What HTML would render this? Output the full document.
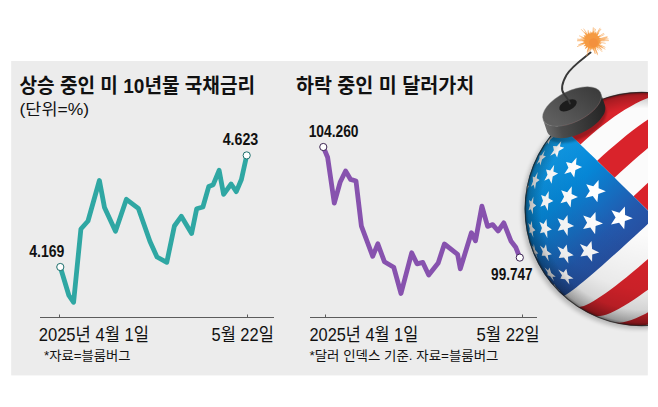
<!DOCTYPE html>
<html lang="ko"><head><meta charset="utf-8"><title>chart</title>
<style>
html,body{margin:0;padding:0;background:#fff}
#w{position:relative;width:658px;height:407px;overflow:hidden;background:#fff;font-family:"Liberation Sans",sans-serif}
#w svg{position:absolute;left:0;top:0}
.t{position:absolute;white-space:nowrap;color:transparent;line-height:1.2;font-family:"Liberation Sans",sans-serif}
</style></head><body>
<div id="w">
<svg width="658" height="407" viewBox="0 0 658 407">
<rect x="11.2" y="61" width="636.6" height="314.4" fill="#ececec"/>
<g stroke="#5c5c5c" stroke-width="1" fill="none"><path d="M40 317.5H274M59.5 314.5V317.5M247.5 314.5V317.5"/><path d="M310 317.5H537M325.5 314.5V317.5M522.5 314.5V317.5"/></g>
<polyline points="60.3,267.0 68.9,295.5 73.6,302.3 80.9,229.0 88.0,221.0 99.4,180.5 104.5,207.5 115.5,231.2 126.4,199.3 138.3,208.3 150.0,241.5 157.0,257.0 166.8,262.3 174.4,226.0 181.3,216.3 191.6,233.5 196.7,208.8 202.9,207.0 208.8,186.4 213.2,184.7 219.1,170.3 223.6,194.3 231.1,184.0 236.3,191.6 241.4,179.5 246.7,155.4" fill="none" stroke="#2fa7a3" stroke-width="4.8" stroke-linejoin="round" stroke-linecap="round"/>
<polyline points="323.3,147.0 327.6,157.2 334.3,203.2 340.1,182.3 345.6,171.0 350.6,179.4 356.0,181.0 361.4,226.2 372.7,256.3 377.8,243.8 384.4,261.7 393.7,267.2 401.0,293.5 411.7,252.8 417.0,263.8 422.8,262.4 428.7,275.0 438.2,262.9 444.4,244.0 457.6,254.3 460.3,268.8 471.4,232.7 475.5,240.8 481.9,206.2 487.6,226.4 492.7,224.6 498.1,231.0 503.8,222.9 511.1,241.3 515.7,247.2 519.8,257.6" fill="none" stroke="#8752ae" stroke-width="4.8" stroke-linejoin="round" stroke-linecap="round"/>
<circle cx="60.3" cy="267" r="3.6" fill="#fff" stroke="#1d6f6c" stroke-width="1"/>
<circle cx="246.7" cy="155.4" r="3.6" fill="#fff" stroke="#1d6f6c" stroke-width="1"/>
<circle cx="323.3" cy="147" r="3.6" fill="#fff" stroke="#3b2450" stroke-width="1"/>
<circle cx="519.8" cy="257.6" r="3.6" fill="#fff" stroke="#3b2450" stroke-width="1"/>
<g font-family='"Liberation Sans", "Noto Sans CJK KR", sans-serif' fill="#111">
<text x="19.5" y="93" font-size="20" font-weight="bold" textLength="235.5" lengthAdjust="spacingAndGlyphs">상승 중인 미 10년물 국채금리</text>
<text x="295.9" y="93" font-size="20" font-weight="bold" textLength="178.4" lengthAdjust="spacingAndGlyphs">하락 중인 미 달러가치</text>
<text x="19.5" y="114.6" font-size="16" textLength="69.5" lengthAdjust="spacingAndGlyphs">(단위=%)</text>
<text x="38.7" y="340.9" font-size="18" textLength="110.3" lengthAdjust="spacingAndGlyphs">2025년 4월 1일</text>
<text x="211.5" y="340.9" font-size="18" textLength="62.3" lengthAdjust="spacingAndGlyphs">5월 22일</text>
<text x="309.5" y="340.9" font-size="18" textLength="108.7" lengthAdjust="spacingAndGlyphs">2025년 4월 1일</text>
<text x="476.4" y="340.9" font-size="18" textLength="63.2" lengthAdjust="spacingAndGlyphs">5월 22일</text>
<text x="44" y="359.5" font-size="13" textLength="86.4" lengthAdjust="spacingAndGlyphs">*자료=블룸버그</text>
<text x="309.5" y="360" font-size="13" textLength="189" lengthAdjust="spacingAndGlyphs">*달러 인덱스 기준. 자료=블룸버그</text>
<text x="222.7" y="145.1" font-size="16" font-weight="bold" textLength="35.6" lengthAdjust="spacingAndGlyphs">4.623</text>
<text x="29.2" y="257.4" font-size="16" font-weight="bold" textLength="35.1" lengthAdjust="spacingAndGlyphs">4.169</text>
<text x="308.7" y="136.5" font-size="16" font-weight="bold" textLength="49.8" lengthAdjust="spacingAndGlyphs">104.260</text>
<text x="491.1" y="280.3" font-size="16" font-weight="bold" textLength="41.5" lengthAdjust="spacingAndGlyphs">99.747</text>
</g>
<defs><clipPath id="cs"><circle cx="641.7" cy="209" r="117"/></clipPath><clipPath id="cr"><rect x="0" y="0" width="648" height="407"/></clipPath><linearGradient id="gb" gradientUnits="userSpaceOnUse" x1="535" y1="150" x2="640" y2="260"><stop offset="0" stop-color="#14a0ea"/><stop offset="0.35" stop-color="#0686d6"/><stop offset="0.72" stop-color="#2359ad"/><stop offset="1" stop-color="#2b4896"/></linearGradient><radialGradient id="gsh" gradientUnits="userSpaceOnUse" cx="655" cy="165" r="175"><stop offset="0.4" stop-color="#000" stop-opacity="0"/><stop offset="0.72" stop-color="#000" stop-opacity="0.07"/><stop offset="0.88" stop-color="#000" stop-opacity="0.19"/><stop offset="1" stop-color="#000" stop-opacity="0.32"/></radialGradient><radialGradient id="ged" gradientUnits="userSpaceOnUse" cx="641.7" cy="209" r="117"><stop offset="0.86" stop-color="#000" stop-opacity="0"/><stop offset="0.97" stop-color="#000" stop-opacity="0.22"/><stop offset="1" stop-color="#000" stop-opacity="0.5"/></radialGradient><filter id="bl" x="-20%" y="-20%" width="140%" height="140%"><feGaussianBlur stdDeviation="3"/></filter><filter id="bl2" x="-20%" y="-20%" width="140%" height="140%"><feGaussianBlur stdDeviation="2"/></filter><filter id="bl0" x="-20%" y="-20%" width="140%" height="140%"><feGaussianBlur stdDeviation="0.45"/></filter><filter id="bl1" x="-20%" y="-20%" width="140%" height="140%"><feGaussianBlur stdDeviation="1.2"/></filter><linearGradient id="gcap" gradientUnits="userSpaceOnUse" x1="545" y1="125" x2="603" y2="110"><stop offset="0" stop-color="#6a6a6a"/><stop offset="0.25" stop-color="#4a4a4a"/><stop offset="1" stop-color="#262626"/></linearGradient><linearGradient id="gtop" gradientUnits="userSpaceOnUse" x1="550" y1="115" x2="595" y2="92"><stop offset="0" stop-color="#5e5e5e"/><stop offset="1" stop-color="#3c3c3c"/></linearGradient></defs>
<g clip-path="url(#cr)">
<circle cx="639.5" cy="211.5" r="117.5" fill="#000" opacity="0.22" filter="url(#bl2)"/>
<g clip-path="url(#cs)">
<circle cx="641.7" cy="209" r="118" fill="#fbfbfb"/>
<path d="M561.0 126.2L565.3 122.1L569.8 118.3L574.4 114.7L579.1 111.3L583.9 108.1L588.7 105.3L593.5 102.7L598.3 100.5L603.0 98.6L607.7 97.0L612.3 95.8L616.7 94.7L620.9 93.9L625.0 93.2L628.9 92.7L632.6 92.4L636.2 92.1L639.6 92.0L642.8 92.0L645.9 92.1L648.8 92.2L651.5 92.4L654.1 92.7L680.7 98.7L678.7 98.0L676.5 97.3L674.1 96.6L671.5 95.9L668.7 95.2L665.6 94.7L662.1 94.7L658.4 95.2L654.4 96.1L650.0 97.3L645.5 99.0L640.7 101.1L635.7 103.6L630.5 106.4L625.1 109.6L619.7 113.0L614.1 116.8L608.5 120.9L602.8 125.2L597.1 129.8L591.5 134.5L585.9 139.4L580.4 144.5Z" fill="#d9232b"/>
<path d="M597.2 160.8L603.1 155.3L609.0 150.0L615.0 144.9L620.9 139.9L626.8 135.1L632.6 130.6L638.3 126.3L643.9 122.2L649.3 118.5L654.5 115.1L659.4 112.1L664.2 109.4L668.6 107.1L672.8 105.2L676.6 103.7L680.2 102.7L683.3 102.0L686.1 101.8L688.5 102.0L690.6 102.7L692.3 103.5L694.0 104.3L695.4 105.1L708.5 112.9L707.6 112.3L706.6 111.6L705.4 111.1L703.8 111.0L701.8 111.3L699.4 112.1L696.6 113.3L693.4 114.9L689.8 116.9L685.9 119.3L681.7 122.1L677.1 125.2L672.3 128.7L667.2 132.6L661.9 136.7L656.4 141.1L650.7 145.8L644.9 150.7L638.9 155.8L632.9 161.1L626.8 166.5L620.6 172.1L614.5 177.7Z" fill="#d9232b"/>
<path d="M633.5 196.3L639.7 190.5L645.8 184.8L651.9 179.2L658.0 173.7L663.9 168.3L669.6 163.1L675.2 158.2L680.6 153.4L685.7 148.9L690.5 144.7L695.1 140.8L699.3 137.3L703.2 134.0L706.8 131.2L709.9 128.7L712.7 126.6L715.1 124.9L717.0 123.6L718.5 122.7L719.6 122.3L720.2 122.3L720.6 122.6L720.9 122.8L732.9 135.8L733.2 136.1L733.5 136.4L733.5 137.0L733.0 138.0L732.1 139.4L730.8 141.2L729.0 143.4L726.8 146.0L724.2 148.9L721.2 152.2L717.7 155.9L713.9 159.8L709.8 164.1L705.3 168.6L700.6 173.4L695.5 178.4L690.2 183.6L684.7 188.9L679.0 194.5L673.1 200.1L667.1 205.8L661.0 211.6L654.9 217.4Z" fill="#d9232b"/>
<path d="M574.9 305.1L575.8 305.7L576.7 306.3L577.9 306.8L579.5 307.0L581.5 306.6L583.9 305.9L586.7 304.7L589.8 303.2L593.3 301.2L597.2 298.8L601.4 296.0L605.9 292.9L610.7 289.4L615.7 285.7L621.0 281.6L626.5 277.2L632.1 272.6L637.9 267.7L643.9 262.6L649.9 257.4L655.9 252.0L662.0 246.5L668.1 240.8L674.1 235.2L680.1 229.5L686.0 223.8L691.7 218.1L697.3 212.5L702.6 206.9L707.8 201.5L712.7 196.2L717.3 191.1L721.6 186.2L725.6 181.5L729.2 177.1L732.4 172.9L735.3 169.0L737.8 165.4L739.8 162.2L741.4 159.3L742.6 156.7L743.3 154.5L743.6 152.7L743.4 151.3L742.8 150.2L742.3 149.2L741.7 148.3L748.6 161.3L749.2 162.8L749.8 164.4L750.5 166.1L751.2 167.9L751.6 170.1L751.6 172.7L751.0 175.5L750.0 178.7L748.6 182.2L746.7 186.1L744.5 190.1L741.8 194.5L738.7 199.1L735.3 203.9L731.5 208.9L727.3 214.0L722.9 219.3L718.2 224.7L713.2 230.2L708.0 235.8L702.7 241.3L697.1 246.9L691.4 252.4L685.6 257.9L679.8 263.3L673.8 268.6L667.9 273.7L662.0 278.6L656.2 283.4L650.4 287.9L644.7 292.1L639.2 296.1L633.8 299.8L628.7 303.1L623.7 306.1L619.0 308.8L614.6 311.0L610.5 312.9L606.7 314.4L603.2 315.4L600.1 316.0L597.3 316.2L594.9 316.0L592.9 315.3L591.1 314.5L589.5 313.7L588.0 313.0Z" fill="#d9232b"/>
<path d="M601.2 318.8L603.2 319.5L605.4 320.2L607.7 320.9L610.2 321.7L613.0 322.4L616.0 322.8L619.4 322.7L623.1 322.2L627.1 321.3L631.4 320.0L635.9 318.3L640.7 316.1L645.6 313.7L650.8 310.8L656.1 307.6L661.6 304.1L667.1 300.3L672.7 296.3L678.4 291.9L684.1 287.4L689.7 282.6L695.4 277.7L700.9 272.6L706.3 267.5L711.6 262.2L716.7 256.8L721.7 251.5L726.4 246.1L730.8 240.8L735.0 235.5L738.9 230.3L742.4 225.2L745.6 220.2L748.5 215.4L750.9 210.8L753.0 206.3L754.6 202.1L755.8 198.2L756.6 194.5L756.9 191.1L756.8 188.0L756.3 185.2L755.7 182.6L755.1 180.3L754.5 178.1L754.0 176.0L753.4 174.1L756.5 186.4L756.9 188.6L757.3 191.0L757.7 193.5L758.0 196.2L758.3 199.0L758.5 202.1L758.6 205.4L758.7 208.9L758.6 212.6L758.1 216.6L757.2 220.8L755.8 225.2L754.1 229.8L751.9 234.5L749.4 239.3L746.5 244.2L743.2 249.2L739.7 254.3L735.9 259.4L731.7 264.5L727.4 269.5L722.8 274.5L718.0 279.4L713.1 284.2L708.0 288.9L702.8 293.3L697.5 297.6L692.2 301.7L686.9 305.5L681.5 309.1L676.2 312.4L671.0 315.3L665.9 317.9L660.8 320.2L656.0 322.1L651.3 323.7L646.8 324.8L642.5 325.5L638.4 325.9L634.6 325.8L631.1 325.5L627.8 325.2L624.7 324.8L621.8 324.3L619.1 323.8L616.6 323.3L614.2 322.7Z" fill="#d9232b"/>
<path d="M654.9 217.4L649.8 222.2L644.7 226.9L639.7 231.6L634.6 236.2L629.6 240.8L624.7 245.3L619.9 249.7L615.1 253.9L610.5 258.1L606.1 262.0L601.7 265.9L597.6 269.5L593.6 273.0L589.8 276.2L586.2 279.2L582.9 282.0L579.7 284.6L576.8 286.9L574.2 289.0L571.8 290.8L569.7 292.3L567.9 293.6L566.4 294.6L565.1 295.3L564.2 295.7L563.5 295.9L563.1 295.7L562.9 295.5L562.6 295.2L441.7 409.0L441.7 9.0L559.8 125.5L559.8 125.4L559.9 125.4L560.1 125.5L560.6 125.9L561.5 126.6L562.7 127.7L564.2 129.1L566.0 130.8L568.1 132.8L570.6 135.1L573.3 137.7L576.3 140.5L579.5 143.7L583.0 147.1L586.8 150.7L590.8 154.5L595.0 158.6L599.3 162.9L603.9 167.3L608.6 171.9L613.5 176.6L618.4 181.5L623.5 186.5L628.6 191.5L633.8 196.6L639.1 201.8L644.3 207.0L649.6 212.2L654.8 217.3Z" fill="url(#gb)"/>
<path d="M624.9 206.4L625.1 214.9L632.8 218.2L624.9 221.0L624.2 229.3L619.1 222.7L611.0 224.4L615.6 217.6L611.4 210.3L619.4 212.7ZM598.6 180.1L598.6 188.2L605.8 191.3L598.3 194.1L597.4 202.3L592.8 195.9L585.4 197.8L589.8 191.0L586.2 184.3L593.3 186.3ZM576.6 157.4L576.0 164.6L582.1 166.9L575.4 169.9L574.2 177.5L570.6 171.9L564.3 174.1L568.4 167.7L566.0 162.1L571.7 163.3ZM561.3 141.0L559.9 146.6L564.3 147.8L558.8 151.0L557.1 157.4L555.0 153.2L550.2 155.8L553.9 150.2L553.0 146.1L556.9 146.2ZM554.3 132.4L552.1 136.3L554.4 136.0L550.4 139.5L548.1 144.3L547.8 141.9L544.7 145.0L548.0 140.2L548.8 138.1L550.6 136.9ZM595.5 211.9L595.7 220.2L603.0 223.5L595.6 226.1L595.1 234.2L590.3 227.6L583.1 229.1L587.1 222.7L583.2 215.6L590.4 218.0ZM571.8 186.2L571.6 193.9L577.9 196.9L571.3 199.7L570.6 207.5L566.6 201.4L560.5 203.2L564.1 196.7L561.2 190.3L567.2 192.2ZM554.2 164.8L553.4 171.6L558.1 173.6L552.7 176.6L551.6 183.8L549.0 178.6L544.3 180.8L547.5 174.7L546.0 169.5L550.2 170.5ZM544.9 150.2L543.2 155.4L545.9 156.2L542.0 159.5L540.3 165.4L539.5 161.7L536.5 164.4L539.3 159.1L539.5 155.5L541.5 155.3ZM591.5 241.1L592.1 248.9L599.2 252.4L592.2 254.4L592.1 261.7L587.2 255.6L580.5 256.5L583.9 250.8L579.9 244.0L586.9 246.7ZM567.5 214.9L567.8 222.7L574.1 226.0L567.9 228.3L567.6 235.9L563.5 229.6L557.7 230.8L560.7 224.9L557.5 218.2L563.4 220.6ZM548.8 191.0L548.6 198.2L553.4 201.0L548.3 203.5L547.8 210.8L544.9 205.1L540.4 206.7L543.0 200.8L541.1 194.9L545.3 196.6ZM537.7 172.0L536.7 178.2L539.6 179.9L536.0 182.8L535.0 189.3L533.6 184.7L530.9 186.8L533.0 181.3L532.7 176.6L534.8 177.3ZM566.7 244.4L567.6 251.6L573.7 255.2L568.0 256.7L568.4 263.4L564.0 257.5L558.7 258.0L561.0 253.0L557.4 246.5L563.2 249.3ZM546.5 218.9L547.0 226.1L551.9 229.4L547.2 231.3L547.4 238.2L544.1 232.3L540.0 233.2L541.9 227.9L539.4 221.7L543.6 224.1ZM533.4 196.5L533.1 203.1L536.2 205.6L533.0 207.9L532.8 214.5L530.9 209.2L528.5 210.6L529.9 205.4L528.9 200.1L531.2 201.6ZM529.0 179.6L527.9 185.0L528.8 186.4L527.2 189.1L526.4 194.9L526.4 190.8L525.8 192.7L526.7 187.9L527.4 183.9L527.5 184.4ZM566.3 268.7L567.7 274.8L573.5 278.4L568.5 279.1L569.4 284.4L565.0 279.2L560.4 278.8L562.0 275.2L558.2 269.4L563.5 272.5ZM546.0 244.2L547.1 250.7L551.8 254.3L547.8 255.3L548.7 261.3L545.1 255.7L541.7 255.7L542.8 251.5L539.9 245.5L543.9 248.4ZM531.8 220.7L532.3 227.1L535.4 230.3L532.7 231.7L533.4 237.8L531.1 232.4L529.3 232.9L529.7 228.4L528.2 222.9L530.4 225.1ZM549.4 267.6L551.2 273.0L555.7 276.7L552.4 276.7L554.0 281.2L550.2 276.3L547.5 275.3L547.6 272.6L544.4 267.3L548.1 270.5ZM533.8 244.1L535.2 249.9L538.3 253.4L536.2 253.8L537.7 258.9L535.0 253.8L533.8 253.2L533.3 250.0L531.2 244.6L533.3 247.5ZM554.1 283.9L556.5 287.8L560.6 291.4L558.2 290.3L560.4 293.1L556.6 289.2L554.7 287.2L553.9 286.2L550.5 281.9L553.8 285.3Z" fill="#fff"/>
<circle cx="641.7" cy="209" r="118" fill="url(#gsh)"/>
<circle cx="641.7" cy="209" r="118" fill="url(#ged)"/>
</g>
<circle cx="641.7" cy="209" r="116.6" fill="none" stroke="#222" stroke-opacity="0.75" stroke-width="1.1"/>
</g>
<g clip-path="url(#cs)"><ellipse cx="577" cy="123" rx="32" ry="16" transform="rotate(-26 577 123)" fill="#000" opacity="0.28" filter="url(#bl1)"/></g>
<path d="M605.0 105.5L605.3 107.2L605.3 109.0L605.0 110.9L604.4 112.9L603.4 115.0L602.0 117.1L600.4 119.2L598.5 121.4L596.3 123.4L593.9 125.5L591.3 127.4L588.5 129.3L585.6 131.0L582.5 132.6L579.4 134.0L576.2 135.2L573.0 136.2L569.9 137.1L566.8 137.7L563.8 138.1L561.0 138.2L558.4 138.1L555.9 137.8L553.7 137.3L551.8 136.5L550.1 135.6L548.8 134.4L547.7 133.0L547.0 131.5L543.0 119.5Z" fill="none"/>
<path d="M605.0 105.5L605.3 107.2L605.3 109.0L605.0 110.9L604.4 112.9L603.4 115.0L602.0 117.1L600.4 119.2L598.5 121.4L596.3 123.4L593.9 125.5L591.3 127.4L588.5 129.3L585.6 131.0L582.5 132.6L579.4 134.0L576.2 135.2L573.0 136.2L569.9 137.1L566.8 137.7L563.8 138.1L561.0 138.2L558.4 138.1L555.9 137.8L553.7 137.3L551.8 136.5L550.1 135.6L548.8 134.4L547.7 133.0L547.0 131.5L543.0 119.5L543.7 121.0L544.8 122.4L546.1 123.6L547.8 124.5L549.7 125.3L551.9 125.8L554.4 126.1L557.0 126.2L559.8 126.1L562.8 125.7L565.9 125.1L569.0 124.2L572.2 123.2L575.4 122.0L578.5 120.6L581.6 119.0L584.5 117.3L587.3 115.4L589.9 113.5L592.3 111.4L594.5 109.4L596.4 107.2L598.0 105.1L599.4 103.0L600.4 100.9L601.0 98.9L601.3 97.0L601.3 95.2L601.0 93.5Z" fill="url(#gcap)"/>
<ellipse cx="572.0" cy="106.5" rx="31.8" ry="15.5" transform="rotate(-26.0 572.0 106.5)" fill="url(#gtop)" stroke="#777" stroke-opacity="0.5" stroke-width="0.8"/>
<ellipse cx="568" cy="105.3" rx="9.5" ry="5.0" transform="rotate(-26.0 568 105.3)" fill="#1c1c1c"/>
<path d="M590.6 52.5C584 58 572 66 566.5 75C562 83 560.5 90 564 94C566.5 97.5 569 100 570 103.5" fill="none" stroke="#383838" stroke-width="1.9" stroke-linecap="round"/>
<g filter="url(#bl0)">
<path d="M587.2 42.3L578.5 44.9M596.4 38.5L604.1 34.6M587.0 40.6L577.8 40.1M594.0 45.4L597.5 53.5M588.6 37.2L581.5 29.6M596.2 43.6L602.5 47.9M596.2 43.5L605.0 49.1M590.3 36.1L588.1 30.3M597.0 40.2L608.2 39.0M589.2 36.7L583.8 29.0M594.7 45.0L598.1 50.1M587.1 39.9L580.9 38.8M593.8 45.5L596.5 52.3M596.9 41.7L605.3 43.3M587.3 42.6L577.4 46.5M587.0 40.2L577.6 39.1M587.0 40.8L577.4 40.8M587.2 42.1L579.9 44.1M597.0 40.7L608.5 40.6M594.7 36.6L600.0 28.2M590.0 45.4L587.1 52.0M590.8 45.7L589.2 51.8M592.5 35.8L593.3 27.7M594.9 36.7L599.5 30.0M596.8 39.5L607.1 36.7M597.0 40.8L604.2 40.8M596.2 38.1L603.5 33.5M597.0 40.2L605.1 39.2M596.5 43.0L605.0 47.2M592.9 35.9L594.2 28.5M596.3 43.4L603.0 47.5M596.9 39.7L606.8 37.4M595.7 44.2L601.1 49.1M596.0 43.8L601.1 47.5M593.5 36.0L595.5 29.3M587.3 39.0L579.5 35.9M593.8 45.5L597.5 54.8M595.4 44.5L601.9 51.5M595.7 44.1L601.9 49.7M593.2 45.7L594.9 52.9M596.9 39.9L607.2 38.0M590.3 45.5L586.7 55.8M593.2 45.6L595.2 53.6M595.0 36.8L600.9 29.3" stroke="#f7a85c" stroke-width="0.8" stroke-linecap="round" fill="none" opacity="0.8"/>
<path d="M601.8 40.8L599.9 41.9L601.7 43.7L598.3 43.7L601.9 47.2L597.3 45.4L598.8 48.7L595.6 46.4L596.1 49.7L594.1 47.9L593.5 50.9L592.0 48.2L590.5 51.3L590.0 47.7L586.9 52.1L588.1 46.9L584.7 49.3L586.1 45.9L583.5 46.2L585.9 43.6L580.3 44.2L584.4 41.9L581.8 40.8L585.3 39.8L580.8 37.5L584.8 37.5L583.5 35.3L586.0 35.6L584.0 31.6L588.0 34.6L587.5 31.0L590.1 34.4L590.6 31.3L592.0 32.9L593.5 30.7L594.1 33.5L596.3 31.5L596.2 34.3L599.4 32.3L597.2 36.3L600.4 35.4L598.9 37.7L601.3 38.1L598.8 39.8Z" fill="#f6a04a"/>
<circle cx="592.0" cy="40.8" r="7.5" fill="#f59a42"/>
<circle cx="593.5" cy="42.8" r="4.5" fill="#f28a3a" opacity="0.6"/>
</g>
</svg>
</div>
</body></html>
